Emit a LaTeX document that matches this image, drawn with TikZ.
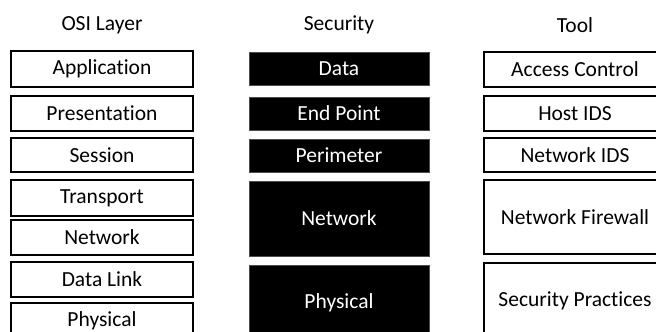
\documentclass[tikz,border=0pt]{standalone}
\usepackage{fontspec}
\setmainfont[Ligatures=NoCommon]{Carlito}
\begin{document}
\begin{tikzpicture}[x=1pt,y=-1pt,
  txt/.style={font=\fontsize{21.5}{24}\selectfont},
  head/.style={txt, inner sep=0pt},
  layerbox/.style={txt, draw=black, line width=1.3pt, fill=white,
    minimum width=182pt, inner sep=0pt, anchor=center},
  secbox/.style={txt, text=white, fill=black, draw=black!70, line width=0.5pt,
    minimum width=180pt, inner sep=0pt, anchor=center}]
\useasboundingbox (0,0) rectangle (656,332);
\clip (0,0) rectangle (656,332);

% column headings
\node[head] (hosi)  at (102,25) {OSI Layer};
\node[head] (hsec)  at (339,25) {Security};
\node[head] (htool) at (575,25) {Tool};

% OSI layers
\node[layerbox, minimum height=36pt] (osiapp)  at (102,69)    {Application};
\node[layerbox, minimum height=35pt] (osipres) at (102,113.5) {Presentation};
\node[layerbox, minimum height=34pt] (osises)  at (102,155)   {Session};
\node[layerbox, minimum height=36pt] (ositr)   at (102,198)   {Transport};
\node[layerbox, minimum height=35pt] (osinet)  at (102,237.5) {Network};
\node[layerbox, minimum height=35pt] (osidl)   at (102,279.5) {Data Link};
\node[layerbox, minimum height=36pt] (osiphy)  at (102,321)   {Physical};

% security zones
\node[secbox, minimum height=33pt] (secdata)  at (339,68.5)  {Data};
\node[secbox, minimum height=33pt] (secend)   at (339,113.5) {End Point};
\node[secbox, minimum height=33pt] (secper)   at (339,155.5) {Perimeter};
\node[secbox, minimum height=75pt] (secnet)   at (339,218.5) {Network};
\node[secbox, minimum height=76pt] (secphy)   at (339,303)   {Physical};

% tools
\node[layerbox, minimum height=35pt] (toolac)  at (575,69.5)  {Access Control};
\node[layerbox, minimum height=35pt] (toolhid) at (575,113.5) {Host IDS};
\node[layerbox, minimum height=34pt] (toolnid) at (575,155)   {Network IDS};
\node[layerbox, minimum height=74pt] (toolfw)  at (575,217)   {Network Firewall};
\node[layerbox, minimum height=75pt] (toolsp)  at (575,300.5) {Security Practices};
\end{tikzpicture}
\end{document}
